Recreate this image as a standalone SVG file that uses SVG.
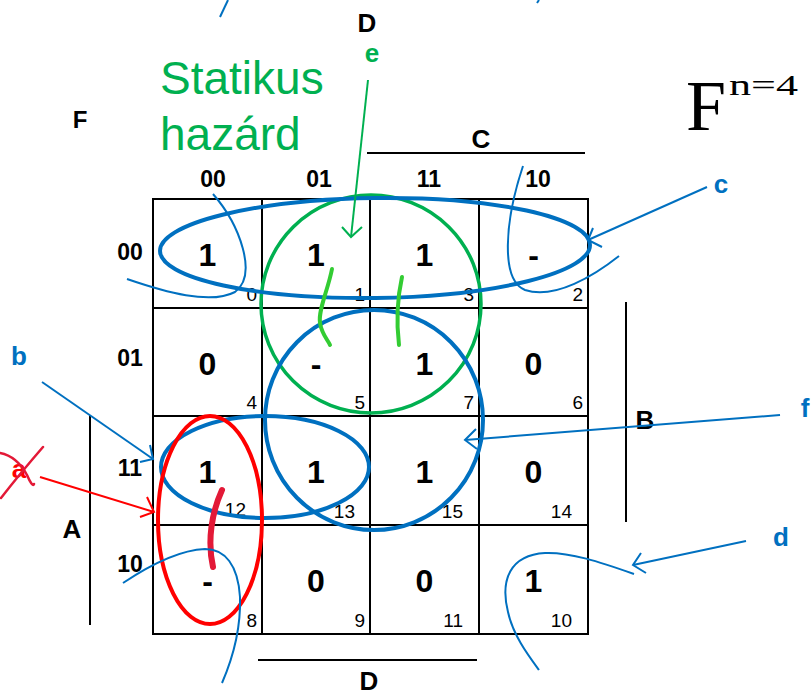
<svg xmlns="http://www.w3.org/2000/svg" width="811" height="698" viewBox="0 0 811 698">
<style>
.v{font-family:"Liberation Sans",Arial,sans-serif;font-weight:bold;font-size:32px;text-anchor:middle;fill:#000}
.i{font-family:"Liberation Sans",Arial,sans-serif;font-size:19px;text-anchor:end;fill:#000}
.h{font-family:"Liberation Sans",Arial,sans-serif;font-weight:bold;font-size:23px;text-anchor:middle;fill:#000}
.L{font-family:"Liberation Sans",Arial,sans-serif;font-weight:bold;font-size:26px;text-anchor:middle;fill:#000}
.bl{font-family:"Liberation Sans",Arial,sans-serif;font-weight:bold;font-size:26px;text-anchor:middle;fill:#0070C0}
.g{stroke:#000;stroke-width:2;fill:none}
.thin{stroke:#0070C0;stroke-width:2;fill:none}
.thick{stroke:#0070C0;stroke-width:4;fill:none}
</style>
<rect width="811" height="698" fill="#fff"/>
<g id="grid" class="g">
<rect x="153" y="199" width="435" height="435"/>
<line x1="262" y1="199" x2="262" y2="634"/>
<line x1="370" y1="199" x2="370" y2="634"/>
<line x1="479" y1="199" x2="479" y2="634"/>
<line x1="153" y1="308" x2="588" y2="308"/>
<line x1="153" y1="416" x2="588" y2="416"/>
<line x1="153" y1="525" x2="588" y2="525"/>
<line x1="367" y1="153" x2="585" y2="153"/>
<line x1="626" y1="302" x2="626" y2="522"/>
<line x1="90" y1="415" x2="90" y2="625"/>
<line x1="258" y1="660" x2="477" y2="660"/>
</g>
<g id="labels">
<text class="L" x="367" y="32">D</text>
<text class="L" x="80" y="128" style="font-size:24px">F</text>
<text class="L" x="481" y="148">C</text>
<text class="L" x="645" y="429">B</text>
<text class="L" x="72" y="538">A</text>
<text class="L" x="369" y="690">D</text>
<text class="h" x="213" y="187">00</text>
<text class="h" x="319" y="187">01</text>
<text class="h" x="429" y="187">11</text>
<text class="h" x="538" y="187">10</text>
<text class="h" x="130" y="260">00</text>
<text class="h" x="130" y="366">01</text>
<text class="h" x="130" y="476">11</text>
<text class="h" x="130" y="572">10</text>
<text x="160" y="94" style="font-family:'Liberation Sans',Arial,sans-serif;font-size:46px;fill:#00B050">Statikus</text>
<text x="160" y="150" style="font-family:'Liberation Sans',Arial,sans-serif;font-size:46px;fill:#00B050">hazárd</text>
<text x="686" y="130" style="font-family:'Liberation Serif','Times New Roman',serif;font-size:72px;fill:#000">F</text>
<text x="729" y="95" textLength="69" lengthAdjust="spacingAndGlyphs" style="font-family:'Liberation Serif','Times New Roman',serif;font-size:30px;fill:#000">n=4</text>
</g>
<g id="cells">
<text class="v" x="207.5" y="266">1</text><text class="i" x="257" y="301">0</text>
<text class="v" x="316" y="266">1</text><text class="i" x="365" y="301">1</text>
<text class="v" x="424.5" y="266">1</text><text class="i" x="474" y="301">3</text>
<text class="v" x="533.5" y="266">-</text><text class="i" x="583" y="301">2</text>
<text class="v" x="207.5" y="375">0</text><text class="i" x="257" y="409">4</text>
<text class="v" x="316" y="375">-</text><text class="i" x="365" y="409">5</text>
<text class="v" x="424.5" y="375">1</text><text class="i" x="474" y="409">7</text>
<text class="v" x="533.5" y="375">0</text><text class="i" x="583" y="409">6</text>
<text class="v" x="207.5" y="483">1</text><text class="i" x="246" y="516">12</text>
<text class="v" x="316" y="483">1</text><text class="i" x="355" y="518">13</text>
<text class="v" x="424.5" y="483">1</text><text class="i" x="463" y="518">15</text>
<text class="v" x="533.5" y="483">0</text><text class="i" x="572" y="518">14</text>
<text class="v" x="207.5" y="592">-</text><text class="i" x="257" y="627">8</text>
<text class="v" x="316" y="592">0</text><text class="i" x="365" y="627">9</text>
<text class="v" x="424.5" y="592">0</text><text class="i" x="463" y="627">11</text>
<text class="v" x="533.5" y="592">1</text><text class="i" x="572" y="627">10</text>
</g>
<g id="loops">
<ellipse id="loop-e" cx="371" cy="304" rx="110" ry="109" fill="none" stroke="#00B050" stroke-width="3.5"/>
<ellipse id="loop-c" cx="375" cy="248" rx="215" ry="50" class="thick" transform="rotate(-0.8 375 248)"/>
<ellipse id="loop-f" cx="374" cy="420" rx="109" ry="110" class="thick"/>
<ellipse id="loop-b" cx="265" cy="467" rx="104" ry="51" class="thick"/>
<ellipse id="loop-a" cx="210" cy="520" rx="52" ry="104" fill="none" stroke="#FF0000" stroke-width="4"/>
</g>
<g id="marks" fill="none" stroke-linecap="round">
<path d="M332,269 C328,290 318,310 320,323 C322,335 328,340 330,345" stroke="#33CC33" stroke-width="4"/>
<path d="M402,277 C398,295 396,320 399,345" stroke="#33CC33" stroke-width="4"/>
<path d="M222,490 C212,512 207,540 213,567" stroke="#E31937" stroke-width="6"/>
</g>
<g id="connectors" fill="none">
<line x1="368" y1="80" x2="351" y2="237" stroke="#00B050" stroke-width="2"/>
<polyline points="342,227 351,237 362,227" stroke="#00B050" stroke-width="2"/>
<line x1="707" y1="187" x2="588" y2="240" class="thin"/>
<polyline points="593,228 588,240 602,247" class="thin"/>
<line x1="780" y1="415" x2="465" y2="440" class="thin"/>
<polyline points="476,429 465,440 477,449" class="thin"/>
<line x1="746" y1="541" x2="633" y2="565" class="thin"/>
<polyline points="641,553 633,565 646,573" class="thin"/>
<line x1="42" y1="382" x2="153" y2="459" class="thin"/>
<polyline points="150,445 153,459 140,462" class="thin"/>
<line x1="40" y1="477" x2="154" y2="512" stroke="#FF0000" stroke-width="2"/>
<polyline points="147,497 154,512 140,517" stroke="#FF0000" stroke-width="2"/>
<path d="M523,166 C505,220 500,280 525,290 C555,300 595,275 619,256" class="thin"/>
<path d="M213,194 C240,225 258,275 235,292 C210,305 165,292 127,279" class="thin"/>
<path d="M634,574 C600,562 570,552 545,553 C510,555 500,580 508,612 C513,635 528,655 539,670" class="thin"/>
<path d="M123,583 C150,565 180,550 205,549 C225,549 238,565 240,597 C241,630 232,660 222,683" class="thin"/>
<line x1="220" y1="17" x2="228" y2="0" class="thin"/>
<line x1="537" y1="3" x2="539" y2="0" class="thin"/>
</g>
<g id="letters">
<text class="bl" x="372" y="62" style="fill:#00B050">e</text>
<text class="bl" x="721" y="193">c</text>
<text class="bl" x="19" y="365">b</text>
<text class="bl" x="781" y="546">d</text>
<text class="bl" x="805" y="417">f</text>
<text x="19" y="478" style="font-family:'Liberation Sans',Arial,sans-serif;font-weight:bold;font-size:26px;text-anchor:middle;fill:#FF0000">a</text>
<path d="M1,498 C15,480 30,462 43,447" fill="none" stroke="#E31937" stroke-width="2.5" stroke-linecap="round"/>
<path d="M0,453 C10,455 20,462 27,475 C30,482 33,487 34,484" fill="none" stroke="#E31937" stroke-width="2.5" stroke-linecap="round"/>
</g>
</svg>
